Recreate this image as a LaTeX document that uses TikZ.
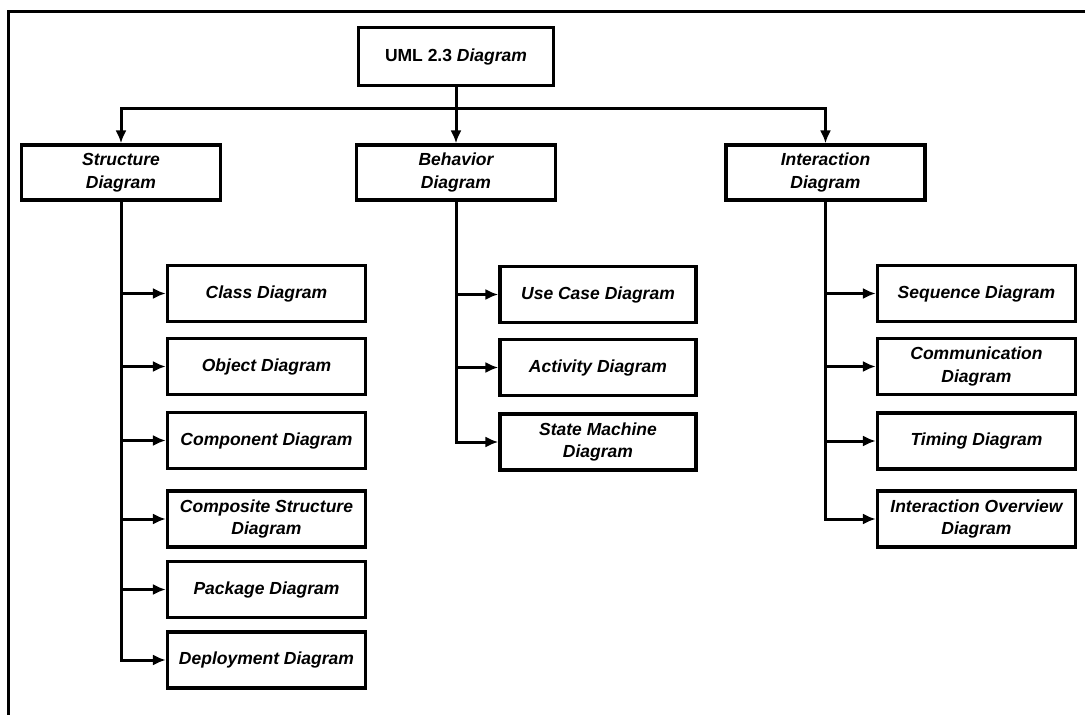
\documentclass[tikz,border=0pt]{standalone}
\usepackage{fontspec}
\setmainfont{Liberation Sans}
\usetikzlibrary{arrows.meta}
\begin{document}
\begin{tikzpicture}[x=1pt,y=-1pt,
  box/.style={draw,line width=3.2pt,align=center,inner sep=0pt,anchor=center,
    font=\bfseries\itshape\fontsize{17.5}{22.5}\selectfont},
  lvl/.style={box,minimum width=199pt,minimum height=55pt},
  leaf/.style={box,minimum width=198pt,minimum height=56pt},
  conn/.style={line width=3pt,-{Latex[length=13pt,width=11pt]}},
  frameline/.style={line width=3pt}]
\useasboundingbox (0,0) rectangle (1085,715);
\fill[white] (0,0) rectangle (1085,715);
\draw[frameline] (1085,11) -- (8,11) -- (8,715);

% root and level 1
\node[box,minimum width=195pt,minimum height=58pt] (root) at (456,56.5) {{\upshape UML 2.3} Diagram};
\node[lvl] (str) at (121,172.5) {Structure\\Diagram};
\node[lvl] (beh) at (456,172.5) {Behavior\\Diagram};
\node[lvl] (int) at (825.5,172.5) {Interaction\\Diagram};

% structure children
\node[leaf] (cls) at (266.5,293.5) {Class Diagram};
\node[leaf] (obj) at (266.5,366.5) {Object Diagram};
\node[leaf] (cmp) at (266.5,440.5) {Component Diagram};
\node[leaf] (csd) at (266.5,519) {Composite Structure\\Diagram};
\node[leaf] (pkg) at (266.5,589.5) {Package Diagram};
\node[leaf] (dep) at (266.5,660) {Deployment Diagram};

% behavior children
\node[leaf,minimum width=196pt] (uc) at (598,294.5) {Use Case Diagram};
\node[leaf,minimum width=196pt] (act) at (598,367.5) {Activity Diagram};
\node[leaf,minimum width=196pt] (sm) at (598,442) {State Machine\\Diagram};

% interaction children
\node[leaf] (seq) at (976.5,293.5) {Sequence Diagram};
\node[leaf] (com) at (976.5,366.5) {Communication\\Diagram};
\node[leaf] (tim) at (976.5,441) {Timing Diagram};
\node[leaf] (iov) at (976.5,519) {Interaction Overview\\Diagram};

% top connectors
\coordinate (bus) at (456,108);
\draw[conn] (root.south) -- (beh.north);
\draw[conn] (bus) -| (str.north);
\draw[conn] (bus) -| (int.north);

% branch connectors
\foreach \c in {cls,obj,cmp,csd,pkg,dep} \draw[conn] (str.south) |- (\c.west);
\foreach \c in {uc,act,sm} \draw[conn] (beh.south) |- (\c.west);
\foreach \c in {seq,com,tim,iov} \draw[conn] (int.south) |- (\c.west);
\end{tikzpicture}
\end{document}
